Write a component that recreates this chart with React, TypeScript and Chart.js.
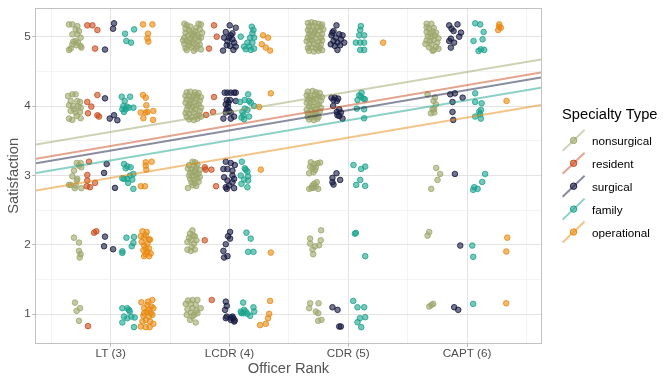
import React, { useEffect, useRef } from "react";
import { Chart, registerables } from "chart.js";
Chart.register(...registerables);

const groupNames = ["nonsurgical", "resident", "surgical", "family", "operational"];
const groupColors = ["#9CA66A", "#C94A1B", "#161941", "#1AA38D", "#E8890F"];
const rankTicks = [3, 4, 5, 6];
const rankLabels = ["LT (3)", "LCDR (4)", "CDR (5)", "CAPT (6)"];
const xGridValues = [2.5, 3, 3.5, 4, 4.5, 5, 5.5, 6, 6.5];
const satisfactionTicks = [1, 2, 3, 4, 5];
const yGridValues = [1, 1.5, 2, 2.5, 3, 3.5, 4, 4.5, 5];
const xLimits = [2.371, 6.623];
const yLimits = [0.584, 5.41];
const fitLow = [3.449, 3.243, 3.176, 3.038, 2.784];
const fitHigh = [4.674, 4.488, 4.416, 4.267, 4.019];

const nonsurgical: number[][] = [
  [2.649,5.181],[2.677,5.181],[2.719,5.157],[2.705,5.109],[2.733,5.085],[2.677,5.038],[2.719,5.038],[2.747,4.990],[2.705,4.942],[2.685,4.932],[2.725,4.918],[2.677,4.894],[2.711,4.880],[2.747,4.870],[2.663,4.832],[2.649,4.813],[2.753,4.846],
  [3.62,5.19],[3.64,5.17],[3.74,5.19],[3.76,5.18],[3.63,5.12],[3.66,5.10],[3.72,5.13],[3.75,5.11],[3.68,5.06],[3.70,5.04],[3.65,5.02],[3.73,5.03],[3.62,4.99],[3.67,4.98],[3.71,4.97],[3.76,4.99],[3.64,4.94],[3.69,4.93],[3.74,4.95],[3.62,4.90],[3.66,4.88],[3.70,4.90],[3.75,4.89],[3.63,4.84],[3.68,4.85],[3.72,4.83],[3.76,4.82],[3.64,4.81],[3.70,4.80],[3.67,5.15],[3.71,5.08],[3.63,5.06],[3.77,5.06],[3.69,5.01],[3.66,4.92],[3.73,4.87],[3.61,4.95],[3.74,5.00],
  [4.66,5.20],[4.69,5.21],[4.72,5.20],[4.75,5.19],[4.78,5.18],[4.67,5.15],[4.70,5.16],[4.74,5.14],[4.77,5.15],[4.66,5.10],[4.68,5.08],[4.72,5.10],[4.76,5.09],[4.79,5.11],[4.67,5.04],[4.71,5.05],[4.74,5.03],[4.78,5.04],[4.66,4.99],[4.69,5.00],[4.73,4.98],[4.77,4.99],[4.65,4.94],[4.70,4.95],[4.75,4.93],[4.78,4.95],[4.67,4.89],[4.71,4.90],[4.74,4.88],[4.77,4.89],[4.66,4.84],[4.69,4.85],[4.73,4.83],[4.76,4.84],[4.67,4.80],[4.71,4.79],[4.75,4.80],[4.78,4.81],[4.68,4.96],[4.72,5.07],
  [5.66,5.19],[5.70,5.19],[5.66,5.14],[5.68,5.12],[5.72,5.13],[5.66,5.07],[5.69,5.05],[5.71,5.08],[5.74,5.06],[5.67,5.01],[5.70,5.00],[5.73,5.02],[5.76,4.98],[5.66,4.95],[5.69,4.94],[5.72,4.96],[5.75,4.92],[5.70,4.89],[5.74,4.86],[5.68,4.85],[5.72,4.81],[5.76,4.83],[5.65,4.90],[5.71,4.80],
  [2.641,4.148],[2.677,4.172],[2.705,4.172],[2.663,4.076],[2.719,4.076],[2.742,4.062],[2.649,4.014],[2.685,4.004],[2.725,3.995],[2.747,3.980],[2.691,3.956],[2.663,3.932],[2.742,3.918],[2.705,3.909],[2.649,3.822],[2.677,3.803],[2.747,3.827],[2.714,3.861],
  [3.64,4.20],[3.67,4.21],[3.71,4.20],[3.74,4.19],[3.63,4.15],[3.66,4.14],[3.70,4.16],[3.73,4.15],[3.76,4.13],[3.64,4.10],[3.68,4.09],[3.72,4.11],[3.75,4.08],[3.63,4.05],[3.67,4.04],[3.70,4.06],[3.74,4.03],[3.65,4.00],[3.69,3.99],[3.72,4.01],[3.76,3.98],[3.64,3.95],[3.68,3.94],[3.71,3.96],[3.75,3.93],[3.63,3.90],[3.66,3.89],[3.70,3.91],[3.74,3.88],[3.64,3.85],[3.68,3.84],[3.72,3.86],[3.76,3.85],[3.66,3.81],[3.70,3.80],[3.73,3.82],[3.69,4.13],[3.66,4.02],
  [4.66,4.21],[4.70,4.22],[4.73,4.20],[4.76,4.19],[4.65,4.16],[4.68,4.15],[4.72,4.17],[4.75,4.14],[4.78,4.13],[4.66,4.10],[4.70,4.09],[4.73,4.11],[4.77,4.08],[4.65,4.05],[4.68,4.04],[4.71,4.06],[4.75,4.03],[4.67,4.00],[4.70,3.99],[4.74,4.01],[4.77,3.98],[4.65,3.95],[4.69,3.94],[4.72,3.96],[4.76,3.93],[4.66,3.90],[4.70,3.89],[4.73,3.91],[4.66,3.85],[4.69,3.84],[4.72,3.86],[4.75,3.85],[4.67,3.81],[4.71,3.80],[4.74,3.82],[4.68,4.12],[4.72,3.88],
  [5.668,4.172],[5.730,4.124],[5.718,4.076],[5.738,4.028],[5.710,3.956],[5.724,3.956],[5.696,3.899],[5.724,3.909],
  [2.714,3.181],[2.747,3.181],[2.733,3.143],[2.753,3.119],[2.691,3.071],[2.677,2.990],[2.719,2.952],[2.714,2.928],[2.663,2.865],[2.705,2.856],[2.697,2.818],[2.753,2.818],[2.649,2.865],
  [3.69,3.20],[3.71,3.19],[3.66,3.15],[3.70,3.14],[3.73,3.16],[3.65,3.10],[3.68,3.09],[3.72,3.11],[3.75,3.08],[3.67,3.04],[3.70,3.05],[3.74,3.03],[3.66,3.00],[3.69,2.99],[3.72,3.01],[3.75,2.98],[3.67,2.95],[3.70,2.94],[3.73,2.96],[3.68,2.90],[3.71,2.89],[3.74,2.91],[3.69,2.86],[3.72,2.85],[3.65,2.82],[3.71,3.07],
  [4.685,3.191],[4.713,3.167],[4.741,3.176],[4.763,3.186],[4.679,3.129],[4.699,3.110],[4.727,3.119],[4.671,3.033],[4.707,3.047],[4.721,3.081],[4.735,2.904],[4.713,2.880],[4.699,2.856],[4.727,2.842],[4.671,2.808],[4.747,2.808],[4.707,2.822],[4.691,2.822],
  [5.741,3.110],[5.774,3.023],[5.752,2.937],[5.699,2.808],
  [2.691,2.104],[2.733,2.033],[2.733,1.913],[2.747,1.865],[2.739,1.818],
  [3.688,2.210],[3.668,2.162],[3.696,2.138],[3.660,2.104],[3.708,2.124],[3.674,2.066],[3.646,2.042],[3.702,2.018],[3.682,1.971],[3.646,1.932],[3.708,1.932],[3.674,1.913],[3.722,2.066],
  [4.772,2.210],[4.679,2.090],[4.769,2.066],[4.679,2.018],[4.721,1.980],[4.755,1.994],[4.699,1.932],[4.705,1.865],
  [5.682,2.186],[5.668,2.133],
  [2.699,1.167],[2.742,1.086],[2.713,1.047],[2.733,0.904],
  [3.651,1.196],[3.688,1.205],[3.730,1.205],[3.632,1.148],[3.674,1.148],[3.716,1.133],[3.758,1.086],[3.688,1.086],[3.646,1.071],[3.722,1.052],[3.674,1.023],[3.640,0.990],[3.702,0.990],[3.730,1.014],[3.668,0.918],[3.716,0.880],[3.688,0.966],
  [4.679,1.157],[4.750,1.157],[4.671,1.086],[4.727,1.038],[4.747,1.014],[4.747,0.904],[4.775,0.918],
  [5.682,1.110],[5.701,1.133],[5.715,1.148],
];

const resident: number[][] = [
  [2.803,5.167],[2.846,5.167],[2.888,5.100],[2.868,4.832],
  [3.870,5.167],[3.893,5.004],[3.828,4.832],
  [2.888,4.162],[2.803,4.062],[2.837,3.995],[2.809,3.899],[2.888,3.870],[2.902,3.851],
  [3.870,4.133],[3.862,3.918],[3.803,3.875],
  [2.817,3.200],[2.803,3.009],[2.803,2.928],[2.798,2.846],[2.826,2.832],[2.868,2.894],
  [3.792,3.119],[3.800,3.085],[3.848,3.085],[3.887,2.846],
  [2.860,2.176],[2.879,2.196],
  [3.792,2.066],
  [2.809,0.827],
  [3.851,1.205],
];

const surgical: number[][] = [
  [3.028,5.196],[3.020,5.119],[2.952,4.818],
  [4.002,5.167],[4.053,5.133],[3.969,5.071],[4.025,5.052],[3.955,4.990],[3.997,4.990],[4.025,4.966],[3.983,4.942],[4.039,4.918],[4.005,4.870],[4.053,4.861],[4.033,4.813],[3.946,4.803],[4.011,5.023],[3.977,4.880],
  [4.901,5.167],[4.876,5.085],[4.924,5.038],[4.859,5.023],[4.952,5.023],[4.895,4.990],[4.938,4.966],[4.876,4.942],[4.966,4.918],[4.853,4.894],[4.909,4.918],[4.932,4.880],[4.887,4.870],[4.909,4.813],[4.867,5.062],
  [5.850,5.167],[5.920,5.181],[5.870,5.119],[5.887,5.085],[5.949,5.062],[5.934,5.004],[5.864,4.975],[5.850,4.942],[5.892,4.918],[5.864,4.846],
  [2.952,4.114],[3.028,3.870],[2.992,3.822],[3.056,3.798],
  [3.960,4.196],[3.983,4.196],[4.011,4.196],[4.039,4.196],[4.053,4.196],[3.977,4.090],[4.005,4.090],[4.053,4.076],[3.969,4.028],[3.988,3.995],[3.977,3.956],[3.997,3.932],[4.011,3.909],[3.969,3.909],[3.949,3.822],[4.011,3.822],[4.039,3.851],[3.991,4.052],
  [4.859,4.124],[4.887,4.124],[4.915,4.110],[4.876,4.090],[4.904,4.076],[4.873,4.004],[4.924,3.956],[4.904,3.918],[4.938,3.909],[4.924,3.861],[4.952,3.822],[4.909,3.870],
  [5.859,4.172],[5.898,4.186],[5.963,4.124],[5.878,4.062],[5.878,3.918],[5.884,3.803],
  [2.966,3.167],[2.944,3.038],[3.036,2.822],
  [3.969,3.200],[4.011,3.181],[4.045,3.152],[3.949,3.095],[3.983,3.095],[4.025,3.071],[3.955,2.975],[4.025,3.000],[4.039,2.952],[3.983,2.928],[4.025,2.904],[3.969,2.832],[3.997,2.856],[4.039,2.818],[3.977,2.808],
  [4.901,3.033],[4.867,2.966],[4.932,2.937],[4.867,2.904],[4.876,2.870],
  [5.898,3.023],
  [2.952,2.119],[2.944,1.980],[3.020,1.937],
  [4.005,2.186],[3.988,2.124],[4.005,2.090],[3.969,2.009],[3.949,1.913],[3.955,1.818],[3.983,1.837],
  [5.943,1.990],
  [3.969,1.181],[3.977,1.119],[3.963,1.062],[3.977,0.966],[3.969,0.942],[4.011,0.952],[4.033,0.942],[4.039,0.894],[4.011,0.918],[4.045,0.909],[4.025,0.966],
  [4.867,1.100],[4.910,1.062],[4.924,0.822],[4.938,0.822],
  [5.892,1.100],[5.926,1.062],
];

const family: number[][] = [
  [3.121,5.047],[3.197,5.109],[3.132,4.942],[3.171,4.918],
  [4.188,5.148],[4.202,5.100],[4.193,5.052],[4.095,5.004],[4.174,4.990],[4.207,4.990],[4.151,4.918],[4.193,4.918],[4.123,4.861],[4.165,4.861],[4.137,4.822],[4.179,4.813],[4.207,4.832],
  [5.106,5.157],[5.101,5.100],[5.092,5.023],[5.134,5.023],[5.064,4.918],[5.101,4.918],[5.134,4.918],[5.101,4.813],[5.134,4.813],
  [6.069,5.196],[6.111,5.181],[6.140,5.071],[6.055,4.942],[6.131,4.966],[6.145,4.813],[6.097,4.798],[6.117,4.822],
  [3.093,4.138],[3.163,4.138],[3.118,4.076],[3.107,4.004],[3.135,3.995],[3.154,3.980],[3.098,3.956],[3.126,3.956],[3.191,3.980],[3.112,3.918],
  [4.157,4.172],[4.089,4.062],[4.129,4.090],[4.165,4.076],[4.179,4.052],[4.207,4.004],[4.109,3.918],[4.118,3.870],[4.101,3.837],[4.165,3.851],[4.123,3.813],[4.151,3.947],[4.129,3.966],
  [5.112,4.196],[5.092,4.157],[5.106,4.138],[5.129,4.110],[5.078,4.090],[5.140,4.100],[5.072,3.966],[5.134,3.956],[5.134,3.827],
  [6.069,4.186],[6.069,4.062],[6.123,4.043],[6.117,3.947],[6.103,3.918],[6.069,3.851],[6.117,3.822],[6.111,3.885],
  [3.112,3.167],[3.140,3.133],[3.168,3.119],[3.191,3.023],[3.163,3.000],[3.112,2.952],[3.140,2.952],[3.182,2.942],[3.098,2.961],[3.146,2.894],[3.191,2.808],[3.126,3.105],
  [4.104,3.200],[4.129,3.105],[4.151,3.057],[4.137,3.085],[4.095,3.000],[4.157,2.990],[4.123,2.942],[4.157,2.928],[4.101,2.880],[4.151,2.832],
  [5.044,3.153],[5.143,3.129],[5.109,3.095],[5.101,2.937],[5.067,2.865],[5.143,2.851],
  [6.153,3.023],[6.128,2.908],[6.061,2.832],[6.089,2.808],[6.052,2.794],
  [3.132,2.104],[3.177,1.980],[3.191,2.028],[3.098,1.908],[3.098,1.884],[3.196,2.114],
  [4.143,2.176],[4.179,2.090],[4.157,1.899],[4.202,1.899],
  [5.064,2.172],[5.056,2.162],[5.143,1.837],
  [6.044,1.990],[6.052,1.827],
  [3.098,1.086],[3.140,1.086],[3.160,1.038],[3.112,0.966],[3.140,0.942],[3.174,0.966],[3.202,0.952],[3.098,0.880],[3.196,0.813],[3.154,1.062],
  [4.115,1.167],[4.202,1.100],[4.095,1.038],[4.123,1.062],[4.118,1.014],[4.137,1.038],[4.151,1.005],[4.174,0.976],[4.208,1.038],[4.101,1.014],
  [5.042,1.191],[5.078,1.100],[5.134,1.100],[5.098,0.942],[5.143,0.956],[5.078,0.884],[5.109,0.813],
  [6.052,1.148],
];

const operational: number[][] = [
  [3.272,5.181],[3.351,5.181],[3.314,5.047],[3.309,4.980],[3.317,4.932],
  [4.283,5.023],[4.325,4.990],[4.272,4.894],[4.306,4.846],[4.342,4.803],
  [5.294,4.918],
  [6.271,5.181],[6.285,5.133],[6.263,5.100],[6.271,5.147],
  [3.272,4.162],[3.295,4.124],[3.300,4.014],[3.253,3.909],[3.295,3.909],[3.309,3.918],[3.359,3.932],[3.275,3.827],[3.357,3.803],
  [4.348,4.186],[4.250,3.990],
  [6.333,4.076],
  [3.295,3.191],[3.345,3.200],[3.295,3.143],[3.300,3.085],[3.253,2.846],[3.289,2.846],
  [4.264,3.085],
  [3.267,2.196],[3.303,2.186],[3.253,2.124],[3.295,2.138],[3.281,2.104],[3.323,2.076],[3.261,2.042],[3.309,2.018],[3.281,1.994],[3.295,1.947],[3.323,1.947],[3.275,1.923],[3.309,1.899],[3.337,1.875],[3.295,1.865],[3.323,1.837],[3.281,1.837],[3.331,2.076],
  [4.348,1.889],
  [6.339,2.104],[6.331,1.904],
  [3.258,1.172],[3.314,1.181],[3.351,1.205],[3.309,1.133],[3.343,1.110],[3.281,1.086],[3.323,1.062],[3.359,1.086],[3.303,1.038],[3.337,1.014],[3.275,0.976],[3.323,0.966],[3.351,0.990],[3.295,0.918],[3.267,0.894],[3.331,0.894],[3.253,0.822],[3.295,0.813],[3.328,0.813],[3.359,0.861],[3.281,1.014],
  [4.342,1.191],[4.334,1.005],[4.325,0.942],[4.306,0.861],[4.258,0.842],
  [6.330,1.157],
];

const groupPoints = [nonsurgical, resident, surgical, family, operational];

const FONT = "'Liberation Sans', Arial, sans-serif";

function rgba(hex: string, a: number) {
  const n = parseInt(hex.slice(1), 16);
  return `rgba(${(n >> 16) & 255},${(n >> 8) & 255},${n & 255},${a})`;
}
const POINT_ALPHA = 0.6;
const LINE_ALPHA = 0.5;

const panelAndLegend = {
  id: "panelAndLegend",
  afterDatasetsDraw(chart: any) {
    const { ctx, chartArea } = chart;
    ctx.save();
    ctx.strokeStyle = "#C2C2C2";
    ctx.lineWidth = 1;
    ctx.strokeRect(Math.round(chartArea.left) - 0.5, Math.round(chartArea.top) - 0.5,
      Math.round(chartArea.right - chartArea.left) + 1, Math.round(chartArea.bottom - chartArea.top) + 1);
    ctx.restore();
  },
  afterDraw(chart: any) {
    const { ctx } = chart;
    ctx.save();
    ctx.fillStyle = "#000000";
    ctx.textAlign = "left";
    ctx.textBaseline = "middle";
    ctx.font = `14.7px ${FONT}`;
    ctx.fillText("Specialty Type", 562, 115);
    ctx.font = `11.7px ${FONT}`;
    groupNames.forEach((name, i) => {
      const ty = 141.7 + i * 22.9;
      const cx = 573.6;
      const cy = ty - 1.3;
      ctx.strokeStyle = rgba(groupColors[i], LINE_ALPHA);
      ctx.lineWidth = 2;
      ctx.beginPath();
      ctx.moveTo(cx - 11, cy + 10.5);
      ctx.lineTo(cx + 11, cy - 10.5);
      ctx.stroke();
      ctx.beginPath();
      ctx.arc(cx, cy, 3.2, 0, Math.PI * 2);
      ctx.fillStyle = rgba(groupColors[i], POINT_ALPHA);
      ctx.fill();
      ctx.strokeStyle = groupColors[i];
      ctx.lineWidth = 1;
      ctx.stroke();
      ctx.fillStyle = "#000000";
      ctx.fillText(name, 592, ty);
    });
    ctx.restore();
  },
};

export default function App() {
  const ref = useRef<HTMLCanvasElement>(null);
  useEffect(() => {
    document.body.style.margin = "0";
    const datasets: any[] = [];
    groupNames.forEach((name, i) => {
      datasets.push({
        type: "line",
        label: name + " fit",
        data: [
          { x: xLimits[0], y: fitLow[i] },
          { x: xLimits[1], y: fitHigh[i] },
        ],
        borderColor: rgba(groupColors[i], LINE_ALPHA),
        borderWidth: 2,
        pointRadius: 0,
        fill: false,
        order: 0,
      });
    });
    groupNames.forEach((name, i) => {
      datasets.push({
        type: "scatter",
        label: name,
        data: groupPoints[i].map((p) => ({ x: p[0], y: p[1] })),
        backgroundColor: rgba(groupColors[i], POINT_ALPHA),
        borderColor: groupColors[i],
        borderWidth: 0.8,
        pointRadius: 2.8,
        order: 1 + (groupNames.length - i),
      });
    });
    const isMajorX = (v: number) => rankTicks.indexOf(v) >= 0;
    const isMajorY = (v: number) => satisfactionTicks.indexOf(v) >= 0;
    const chart = new Chart(ref.current as HTMLCanvasElement, {
      type: "scatter",
      data: { datasets },
      plugins: [panelAndLegend],
      options: {
        animation: false,
        responsive: false,
        maintainAspectRatio: false,
        devicePixelRatio: 1,
        events: [],
        layout: { padding: { top: 7, right: 131, left: 0, bottom: 0 } },
        plugins: { legend: { display: false }, tooltip: { enabled: false } },
        scales: {
          x: {
            type: "linear",
            min: xLimits[0],
            max: xLimits[1],
            afterBuildTicks: (s: any) => {
              s.ticks = xGridValues.map((v) => ({ value: v }));
            },
            afterFit: (s: any) => {
              s.height = 41;
            },
            border: { display: false },
            grid: {
              color: (c: any) => (isMajorX(c.tick?.value) ? "#E3E3E3" : "#F0F0F0"),
              lineWidth: (c: any) => (isMajorX(c.tick?.value) ? 1 : 0.8),
              tickColor: (c: any) => (isMajorX(c.tick?.value) ? "#B3B3B3" : "rgba(0,0,0,0)"),
              tickLength: 3.7,
              drawTicks: true,
            },
            ticks: {
              autoSkip: false,
              maxRotation: 0,
              padding: 0,
              color: "#4D4D4D",
              font: { family: FONT, size: 11.7 },
              callback: (v: any) => {
                const i = rankTicks.indexOf(Number(v));
                return i >= 0 ? rankLabels[i] : "";
              },
            },
            title: {
              display: true,
              text: "Officer Rank",
              color: "#555555",
              font: { family: FONT, size: 14.7 },
              padding: { top: 0, bottom: 6 },
            },
          },
          y: {
            type: "linear",
            min: yLimits[0],
            max: yLimits[1],
            afterBuildTicks: (s: any) => {
              s.ticks = yGridValues.map((v) => ({ value: v }));
            },
            afterFit: (s: any) => {
              s.width = 36;
            },
            border: { display: false },
            grid: {
              color: (c: any) => (isMajorY(c.tick?.value) ? "#E3E3E3" : "#F0F0F0"),
              lineWidth: (c: any) => (isMajorY(c.tick?.value) ? 1 : 0.8),
              tickColor: (c: any) => (isMajorY(c.tick?.value) ? "#B3B3B3" : "rgba(0,0,0,0)"),
              tickLength: 3.7,
              drawTicks: true,
            },
            ticks: {
              autoSkip: false,
              padding: 1.5,
              color: "#4D4D4D",
              font: { family: FONT, size: 11.7 },
              callback: (v: any) => (isMajorY(Number(v)) ? String(v) : ""),
            },
            title: {
              display: true,
              text: "Satisfaction",
              color: "#555555",
              font: { family: FONT, size: 14.7 },
              padding: { top: 5, bottom: 0 },
            },
          },
        },
      } as any,
    } as any);
    return () => chart.destroy();
  }, []);
  return (
    <div style={{ width: 672, height: 384, background: "#FFFFFF" }}>
      <canvas ref={ref} width={672} height={384} style={{ display: "block" }} />
    </div>
  );
}
